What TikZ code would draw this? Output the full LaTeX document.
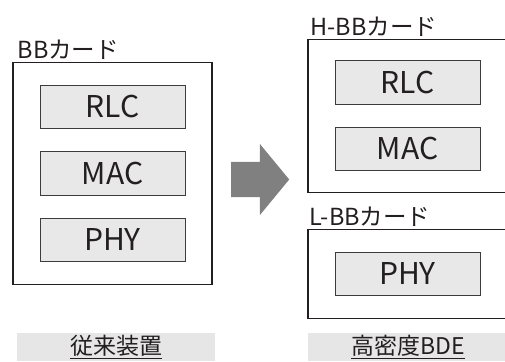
\documentclass[tikz,border=0pt]{standalone}
\usepackage{fontspec}
\setmainfont{Noto Sans CJK JP}
\usepackage{tikz}
\usetikzlibrary{positioning,fit,shapes.arrows}
\definecolor{ink}{HTML}{231F20}
\definecolor{edge}{HTML}{3C3C3C}
\definecolor{cell}{HTML}{E8E8E8}
\definecolor{band}{HTML}{E6E6E6}
\definecolor{shiftgray}{HTML}{808080}
\tikzset{
  layer/.style={draw=edge,fill=cell,line width=1pt,minimum width=145pt,minimum height=43.5pt,inner sep=0pt,font=\fontsize{30}{32}\selectfont,text=ink},
  card/.style={draw=ink,line width=1.2pt,inner sep=0pt},
  cardname/.style={inner sep=1pt,font=\fontsize{23.5}{25}\selectfont,text=ink},
  caption/.style={fill=band,minimum height=28pt,inner sep=0pt,font=\fontsize{23}{25}\selectfont,text=ink}
}
\begin{document}
\begin{tikzpicture}[x=1pt,y=-1pt,node distance=22pt]
  \useasboundingbox (0,0) rectangle (505,361);
  \clip (0,0) rectangle (505,361);

  % conventional BB card
  \node[layer] (rlcA) at (112.5,107) {RLC};
  \node[layer,below=of rlcA] (macA) {MAC};
  \node[layer,below=of macA] (phyA) {PHY};
  \node[card,fit=(rlcA)(phyA),inner xsep=26.5pt,inner ysep=22.5pt] (bbA) {};
  \node[cardname,above right=1pt and 4pt of bbA.north west] (bbAname) {BBカード};

  % split H-BB / L-BB cards
  \node[layer] (rlcB) at (407.5,82.5) {RLC};
  \node[layer,below=of rlcB] (macB) {MAC};
  \node[layer] (phyB) at (407.5,274) {PHY};
  \node[card,fit=(rlcB)(macB),inner xsep=26.5pt,inner ysep=21pt] (hbb) {};
  \node[card,fit=(phyB),inner xsep=26.5pt,inner ysep=22.5pt] (lbb) {};
  \node[cardname,above right=1pt and 2pt of hbb.north west] (hbbname) {H-BBカード};
  \node[cardname,above right=1pt and 1pt of lbb.north west] (lbbname) {L-BBカード};

  \node[single arrow,fill=shiftgray,minimum height=58pt,inner sep=17.5pt,
        single arrow head extend=18pt,single arrow head indent=0pt,
        single arrow tip angle=101,anchor=tail] (shift) at (231,179.5) {};

  % captions
  \node[caption,minimum width=198pt] (oldcap) at (116,347) {\underline{従来装置}};
  \node[caption,minimum width=200pt] (newcap) at (408,347) {\underline{高密度BDE}};
\end{tikzpicture}
\end{document}
